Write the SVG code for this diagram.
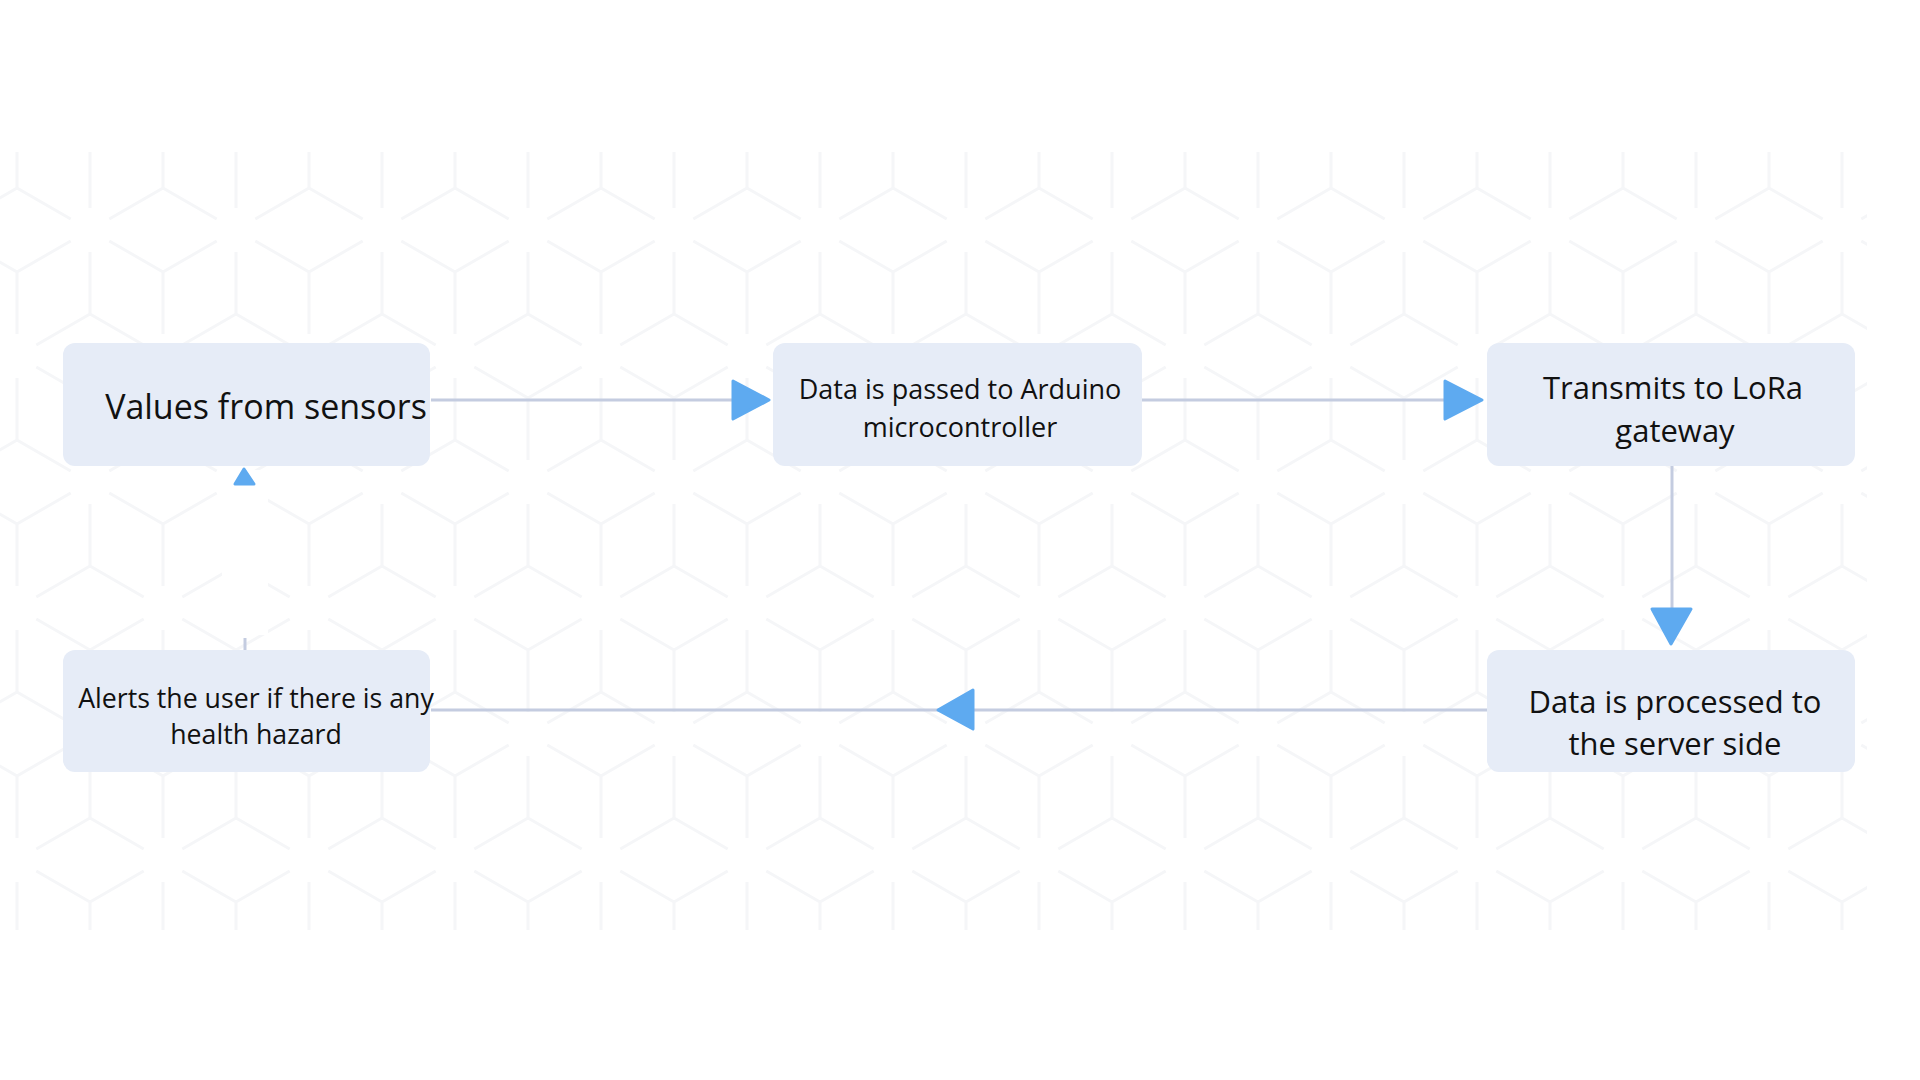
<svg xmlns="http://www.w3.org/2000/svg" width="1920" height="1080" viewBox="0 0 1920 1080">
  <style>
    .node rect { fill: #e6ecf7; }
    .node text { font-family: "Open Sans", "Noto Sans", sans-serif; fill: #111111; text-anchor: middle; }
    .line { stroke: #c4cce0; stroke-width: 3; fill: none; }
    .head { fill: #5eaaf0; stroke: #5eaaf0; stroke-width: 3; stroke-linejoin: round; }
  </style>
  <defs>
    <pattern id="cubes" patternUnits="userSpaceOnUse" x="17" y="152" width="146" height="252">
      <path fill="none" stroke="#f5f6f8" stroke-width="3" d="
        M0,36 V-26 M0,36 L-53.7,67 M0,36 L53.7,67
        M146,36 V-26 M146,36 L92.3,67 M146,36 L199.7,67
        M0,288 V226 M146,288 V226
        M0,120 V182 M0,120 L-53.7,89 M0,120 L53.7,89
        M146,120 V182 M146,120 L92.3,89 M146,120 L199.7,89
        M73,162 V100 M73,162 L19.3,193 M73,162 L126.7,193
        M73,246 V308 M73,246 L19.3,215 M73,246 L126.7,215
        M73,-6 V56 M73,-6 L19.3,-37 M73,-6 L126.7,-37"/>
    </pattern>
  </defs>
  <rect width="1920" height="1080" fill="#ffffff"/>
  <rect x="0" y="152" width="1867" height="778" fill="url(#cubes)"/>
  <rect x="222" y="470" width="46" height="165" fill="#ffffff"/>

  <g id="connectors">
    <g id="c1">
      <line class="line" x1="431" y1="400" x2="733" y2="400"/>
      <polygon class="head" points="733,381 769,400 733,419"/>
    </g>
    <g id="c2">
      <line class="line" x1="1142" y1="400" x2="1445" y2="400"/>
      <polygon class="head" points="1445,381 1482,400 1445,419"/>
    </g>
    <g id="c3">
      <line class="line" x1="1672" y1="466" x2="1672" y2="609"/>
      <polygon class="head" points="1652,609 1691,609 1671,644"/>
    </g>
    <g id="c4">
      <line class="line" x1="1487" y1="710" x2="431" y2="710"/>
      <polygon class="head" points="973,690 938,710 973,729"/>
    </g>
    <g id="c5">
      <line class="line" x1="245" y1="638" x2="245" y2="650"/>
      <polygon class="head" points="235,484 254,484 244,469"/>
    </g>
  </g>

  <g id="n1" class="node">
    <rect x="63" y="343" width="367" height="123" rx="12"/>
    <text x="266" y="419" font-size="34">Values from sensors</text>
  </g>
  <g id="n2" class="node">
    <rect x="773" y="343" width="369" height="123" rx="12"/>
    <text x="960" y="399" font-size="27">Data is passed to Arduino</text>
    <text x="960" y="437" font-size="27">microcontroller</text>
  </g>
  <g id="n3" class="node">
    <rect x="1487" y="343" width="368" height="123" rx="12"/>
    <text x="1673" y="399" font-size="31">Transmits to LoRa</text>
    <text x="1675" y="442" font-size="31">gateway</text>
  </g>
  <g id="n4" class="node">
    <rect x="1487" y="650" width="368" height="122" rx="12"/>
    <text x="1675" y="713" font-size="31">Data is processed to</text>
    <text x="1675" y="755" font-size="31">the server side</text>
  </g>
  <g id="n5" class="node">
    <rect x="63" y="650" width="367" height="122" rx="12"/>
    <text x="256" y="708" font-size="26.7">Alerts the user if there is any</text>
    <text x="256" y="744" font-size="26.7">health hazard</text>
  </g>
</svg>
